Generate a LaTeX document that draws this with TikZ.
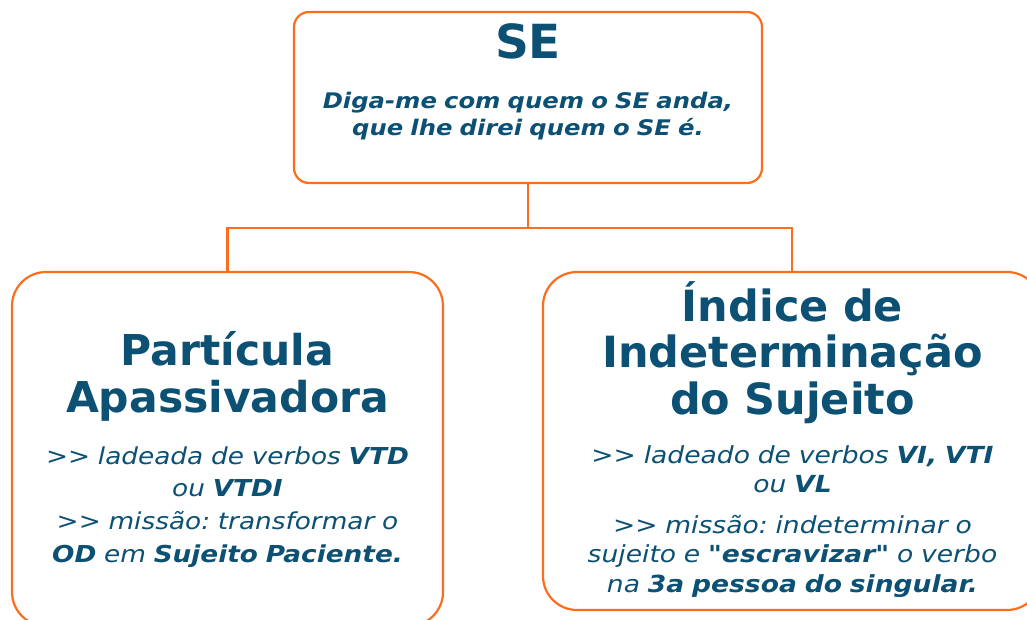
\documentclass[tikz,border=0pt]{standalone}
\usepackage{fontspec}
\setmainfont{DejaVu Sans}[Ligatures=TeXOff]
\newfontfamily\widefont{DejaVu Sans}[Ligatures=TeXOff, FakeStretch=1.13]
\frenchspacing
\definecolor{seblue}{RGB}{12, 80, 115}
\definecolor{seorange}{RGB}{250, 110, 30}
\tikzset{
  box/.style={draw=seorange, line width=2.2pt, fill=white, inner sep=0pt},
  link/.style={draw=seorange, line width=2.2pt},
  txt/.style={text=seblue, align=center, anchor=base, inner sep=0pt}
}
\begin{document}
\begin{tikzpicture}[x=1pt, y=-1pt]
        \useasboundingbox (0,0) rectangle (1027,619);
        \clip (0,0) rectangle (1027,619);
            \node[box, rounded corners=15pt, minimum width=468pt, minimum height=171pt] (se)  at (528, 97.5) {};
            \node[box, rounded corners=34pt, minimum width=431pt, minimum height=354pt] (pa)  at (227.5, 449) {};
            \node[box, rounded corners=34pt, minimum width=498pt, minimum height=338pt] (iis) at (792, 441) {};
            \coordinate (split) at (528, 228);
            \draw[link] (se.south) -- (split);
            \draw[link] (split) -| (pa.north);
            \draw[link] (split) -| (iis.north);
            \node[txt, text width=440pt, font=\fontsize{47}{55}\selectfont\bfseries] (setitle) at (528, 58) {SE};
            \node[txt, text width=440pt, font=\widefont\fontsize{21.5}{27}\selectfont\bfseries\itshape] (setag) at (528, 108)
                {Diga-me com quem o SE anda,\\que lhe direi quem o SE é.};
            \node[txt, text width=420pt, font=\fontsize{42.5}{47}\selectfont\bfseries] (patitle) at (227.5, 365)
                {Partícula\\Apassivadora};
            \node[txt, text width=420pt, font=\widefont\fontsize{23.3}{32.7}\selectfont\itshape] (pabody) at (227.5, 464)
                {>> ladeada de verbos \textbf{VTD}\\ou \textbf{VTDI}\\>> missão: transformar o\\\textbf{OD} em \textbf{Sujeito Paciente.}};
            \node[txt, text width=470pt, font=\fontsize{43}{46.5}\selectfont\bfseries] (iistitle) at (792.5, 321)
                {Índice de\\Indeterminação\\do Sujeito};
            \node[txt, text width=470pt, font=\widefont\fontsize{23.5}{29.5}\selectfont\itshape] (iisbody) at (792.5, 463)
                {>> ladeado de verbos \textbf{VI, VTI}\\ou \textbf{VL}\\[11pt]>> missão: indeterminar o\\sujeito e \textbf{"escravizar"} o verbo\\na \textbf{3a pessoa do singular.}};
        \end{tikzpicture}
\end{document}
